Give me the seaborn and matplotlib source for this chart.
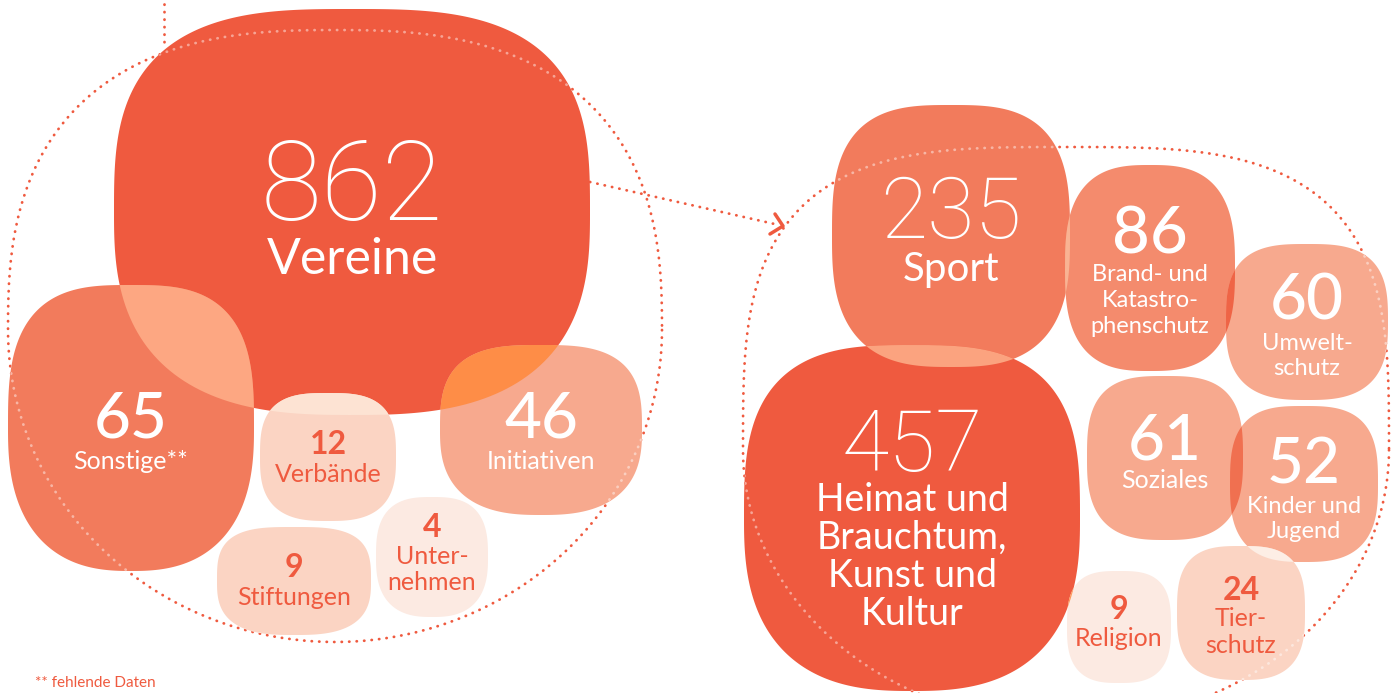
import numpy as np
import matplotlib
matplotlib.use("Agg")
import matplotlib.pyplot as plt
from matplotlib.path import Path
from matplotlib.patches import PathPatch
import seaborn as sns

# Values and labels.
left_values = [862, 65, 46, 12, 9, 4]
left_labels = ["Vereine", "Sonstige**", "Initiativen", "Verbände", "Stiftungen", "Unter-\nnehmen"]
right_values = [235, 457, 86, 60, 61, 52, 9, 24]
right_labels = ["Sport", "Heimat und\nBrauchtum,\nKunst und\nKultur", "Brand- und\nKatastro-\nphenschutz",
                "Umwelt-\nschutz", "Soziales", "Kinder und\nJugend", "Religion", "Tier-\nschutz"]
footnote = "** fehlende Daten"

# Colours.
DARK = "#EF5A3F"
MID = "#F27B5C"
BRAND = "#F48B6D"
LIGHT = "#F7A98E"
PALE = "#FBD4C3"
PALEST = "#FCEAE2"

# Layout (pixel space): cx, cy, half width, half height, exponent top, exponent bottom, colour.
left_shapes = [
    (352, 212, 238, 203, 3.0, 2.7, DARK),
    (131, 428, 123, 143, 3.0, 2.5, MID),
    (541, 430, 101, 85, 3.0, 2.6, LIGHT),
    (328, 457, 68, 64, 3.0, 2.8, PALE),
    (294, 581, 77, 54, 3.2, 2.8, PALE),
    (432, 557, 56, 60, 2.8, 2.6, PALEST),
]
right_shapes = [
    (951, 236, 119, 131, 3.0, 2.8, MID),
    (912, 518, 168, 173, 3.0, 2.6, DARK),
    (1150, 268, 85, 103, 2.8, 2.8, BRAND),
    (1307, 322, 81, 78, 3.0, 2.8, LIGHT),
    (1165, 458, 78, 82, 3.0, 2.8, LIGHT),
    (1304, 484, 74, 78, 3.0, 2.8, LIGHT),
    (1119, 627, 52, 56, 3.0, 2.8, PALEST),
    (1241, 613, 64, 67, 3.0, 2.8, PALE),
]
# Text layout: number baseline, number size, weight, label baseline, label size, line step, colour.
left_text = [
    (352, 220, 80, "light", 274, 36, 0, "white"),
    (131, 437, 46, "medium", 469, 18, 0, "white"),
    (541, 437, 46, "medium", 469, 18, 0, "white"),
    (328, 454, 23, "bold", 482, 18, 0, DARK),
    (294, 577, 23, "bold", 605, 18, 0, DARK),
    (432, 537, 23, "bold", 564, 18, 26, DARK),
]
right_text = [
    (951, 238, 62, "light", 281, 29, 0, "white"),
    (912, 471, 62, "light", 511, 27, 38, "white"),
    (1150, 253, 47, "medium", 281, 17, 26, "white"),
    (1307, 320, 46, "medium", 350, 17, 25, "white"),
    (1165, 460, 46, "medium", 488, 18, 0, "white"),
    (1304, 483, 46, "medium", 513, 17, 25, "white"),
    (1119, 619, 23, "bold", 646, 18, 0, DARK),
    (1241, 600, 23, "bold", 626, 18, 27, DARK),
]
# Overlaps: (group, shape a, shape b, colour).
overlaps = [
    ("L", 1, 0, "#FDA782"), ("L", 2, 0, "#FE8D47"), ("L", 3, 0, "#FDE3D3"),
    ("R", 0, 1, "#FBA37F"), ("R", 0, 2, "#F9B393"), ("R", 2, 3, "#EF6446"),
    ("R", 4, 5, "#F07050"), ("R", 6, 1, "#FE9B5C"), ("R", 7, 5, "#FDEEE5"),
]


def blob_xy(cx, cy, a, b, n_top, n_bot, b_bot=None, m=600):
    t = np.linspace(0, 2 * np.pi, m)
    c, s = np.cos(t), np.sin(t)
    n = np.where(s > 0, n_bot, n_top)
    bb = np.where(s > 0, b if b_bot is None else b_bot, b)
    x = cx + a * np.sign(c) * np.abs(c) ** (2 / n)
    y = cy + bb * np.sign(s) * np.abs(s) ** (2 / n)
    return x, y


sns.set_theme(style="white")
plt.rcParams["font.family"] = ["Lato", "DejaVu Sans"]

fig = plt.figure(figsize=(13.97, 6.93), dpi=100)
ax = fig.add_axes([0, 0, 1, 1])
ax.set_xlim(0, 1397)
ax.set_ylim(693, 0)
ax.axis("off")

# Dotted outlines round both groups.
outlines = [blob_xy(335, 330, 327, 300, 2.6, 2.0, b_bot=312), blob_xy(1066, 450, 323, 303, 3.3, 2.0, b_bot=274)]
for ox, oy in outlines:
    sns.lineplot(x=ox, y=oy, sort=False, estimator=None, ax=ax, color=DARK, lw=2,
                 linestyle=(0, (0.1, 2.6)), dash_capstyle="round", zorder=1)
ax.plot([164, 164], [4, 46], color=DARK, lw=2, linestyle=(0, (0.1, 2.6)), dash_capstyle="round", zorder=1)
ax.plot([590, 779], [182, 225], color=DARK, lw=2, linestyle=(0, (0.1, 2.6)), dash_capstyle="round", zorder=1)
ax.plot([775, 783, 770], [214, 226, 234], color=DARK, lw=2.5, solid_capstyle="round", zorder=1)

patches = {}
for grp, shapes in (("L", left_shapes), ("R", right_shapes)):
    for i, (cx, cy, a, b, nt, nb, col) in enumerate(shapes):
        x, y = blob_xy(cx, cy, a, b, nt, nb)
        p = PathPatch(Path(np.column_stack([x, y])), fc=col, ec="none", zorder=2)
        ax.add_patch(p)
        patches[(grp, i)] = p
        # outline dots shine through as pale dots
        for ox, oy in outlines:
            ln, = ax.plot(ox, oy, color="white", alpha=0.45, lw=2, linestyle=(0, (0.1, 2.6)),
                          dash_capstyle="round", zorder=4)
            ln.set_clip_path(p)

for grp, ia, ib, col in overlaps:
    shapes = left_shapes if grp == "L" else right_shapes
    cx, cy, a, b, nt, nb, _ = shapes[ia]
    x, y = blob_xy(cx, cy, a, b, nt, nb)
    q = PathPatch(Path(np.column_stack([x, y])), fc=col, ec="none", zorder=3)
    ax.add_patch(q)
    q.set_clip_path(patches[(grp, ib)])


def put_text(values, labels, layout):
    for v, lab, (x, yn, ns, w, yl, ls, step, col) in zip(values, labels, layout):
        if w == "light":
            # big figures: thin but not hairline
            ax.text(x, yn, str(v), ha="center", va="baseline", fontsize=ns, fontweight="light",
                    family=["Roboto", "DejaVu Sans"], color=col, zorder=6)
        else:
            ax.text(x, yn, str(v), ha="center", va="baseline", fontsize=ns, fontweight=w, color=col, zorder=6)
        for k, line in enumerate(lab.split("\n")):
            ax.text(x, yl + k * step, line, ha="center", va="baseline", fontsize=ls, color=col, zorder=6)


put_text(left_values, left_labels, left_text)
put_text(right_values, right_labels, right_text)
ax.text(35, 676, footnote, ha="left", va="top", fontsize=11, color=DARK)

fig.savefig("out.png", dpi=100)
